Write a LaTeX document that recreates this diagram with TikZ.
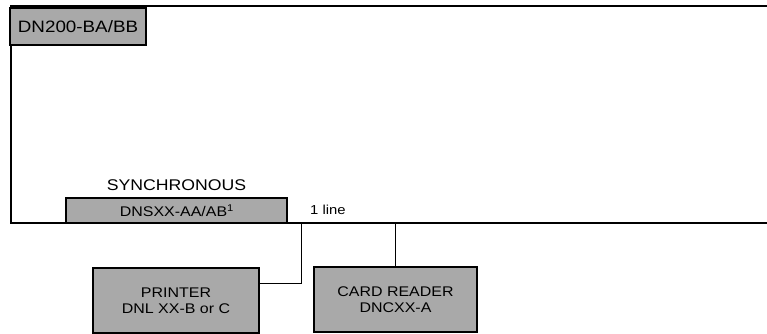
\documentclass[tikz,border=0pt]{standalone}
\usepackage{fontspec}
\setmainfont{Liberation Sans}[FakeStretch=1.14]
\usetikzlibrary{positioning,calc}
\definecolor{shade}{HTML}{A9A9A9}
\tikzset{
  unitbox/.style={draw, line width=1.6pt, fill=shade, align=center, inner sep=0pt, font=\fontsize{14}{16}\selectfont},
  frameline/.style={line width=1.6pt},
  wire/.style={line width=0.8pt},
  lbl/.style={inner sep=0pt, font=\fontsize{14}{16}\selectfont},
}
\begin{document}
\begin{tikzpicture}[x=1pt,y=-1pt]
    \useasboundingbox (0,0) rectangle (767,334);
    \draw[frameline] (767,6) -- (11,6) -- (11,223) -- (767,223);
    \node[unitbox, minimum width=136pt, minimum height=37pt, font=\fontsize{16.5}{18}\selectfont] (host) at (78,26.5) {DN200-BA/BB};
    \node[unitbox, minimum width=221pt, minimum height=25pt] (sync) at (176.5,210.5) {DNSXX-AA/AB$^{\mathrm{1}}$};
    \node[lbl, above=6pt of sync, font=\fontsize{15.5}{17}\selectfont] (synclbl) {SYNCHRONOUS};
    \node[lbl, anchor=west, font=\fontsize{13}{15}\selectfont] (linelbl) at (310,210) {1 line};
    \node[unitbox, minimum width=166pt, minimum height=65pt] (printer) at (176,300.5) {PRINTER\\DNL XX-B or C};
    \node[unitbox, minimum width=163pt, minimum height=65pt] (card) at (395.5,299.5) {CARD READER\\DNCXX-A};
    \coordinate (tap1) at (301,223);
    \coordinate (tap2) at (395.5,223);
    \draw[wire] (tap1) |- ([yshift=17pt]printer.east);
    \draw[wire] (tap2) -- (card);
\end{tikzpicture}
\end{document}
